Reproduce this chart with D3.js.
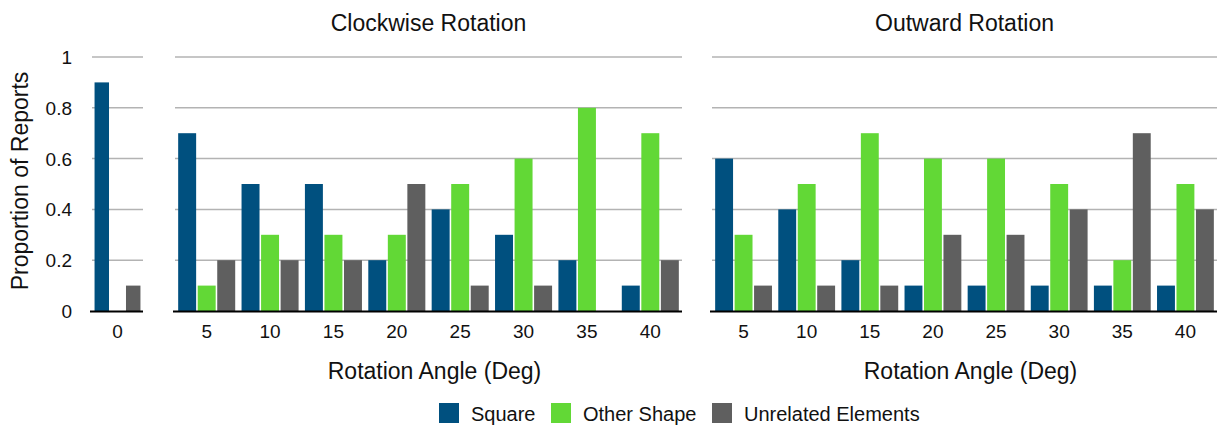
<!DOCTYPE html>
<html>
<head>
<meta charset="utf-8">
<script src="https://cdn.jsdelivr.net/npm/d3@7"></script>
<style>
  body { margin: 0; background: #fff; }
  text { font-family: "Liberation Sans", Arial, Helvetica, sans-serif; fill: #111; }
</style>
</head>
<body>
<svg id="chart" width="1217" height="425"></svg>
<script>
// data
const series = ["Square", "Other Shape", "Unrelated Elements"];
const colors = ["#00507f", "#62d836", "#5f5f5f"];
const angles = ["5", "10", "15", "20", "25", "30", "35", "40"];

const zeroSquare = [0.9], zeroOther = [0], zeroUnrelated = [0.1];

const cwSquare    = [0.7, 0.5, 0.5, 0.2, 0.4, 0.3, 0.2, 0.1];
const cwOther     = [0.1, 0.3, 0.3, 0.3, 0.5, 0.6, 0.8, 0.7];
const cwUnrelated = [0.2, 0.2, 0.2, 0.5, 0.1, 0.1, 0.0, 0.2];

const outSquare    = [0.6, 0.4, 0.2, 0.1, 0.1, 0.1, 0.1, 0.1];
const outOther     = [0.3, 0.5, 0.7, 0.6, 0.6, 0.5, 0.2, 0.5];
const outUnrelated = [0.1, 0.1, 0.1, 0.3, 0.3, 0.4, 0.7, 0.4];

const yTicks = [0, 0.2, 0.4, 0.6, 0.8, 1];

const svg = d3.select("#chart");
const y = d3.scaleLinear().domain([0, 1]).range([311, 57]);

const panels = [
  { title: null, xlabel: null, cats: ["0"], vals: [zeroSquare, zeroOther, zeroUnrelated], range: [92, 143] },
  { title: "Clockwise Rotation", xlabel: "Rotation Angle (Deg)", cats: angles, vals: [cwSquare, cwOther, cwUnrelated], range: [175, 682] },
  { title: "Outward Rotation", xlabel: "Rotation Angle (Deg)", cats: angles, vals: [outSquare, outOther, outUnrelated], range: [712, 1217] }
];

panels.forEach(function(p) {
  const g = svg.append("g");
  const x = d3.scaleBand().domain(p.cats).range(p.range).paddingInner(0.1).paddingOuter(0.05);
  const xs = d3.scaleBand().domain(series).range([0, x.bandwidth()]).paddingInner(0.08);

  // gridlines
  g.selectAll(".grid").data(yTicks.slice(1)).enter().append("line")
    .attr("x1", p.range[0]).attr("x2", p.range[1])
    .attr("y1", d => y(d)).attr("y2", d => y(d))
    .attr("stroke", "#b3b3b3").attr("stroke-width", 1.5);

  // bars
  const rows = p.cats.map((c, i) => ({ cat: c, vals: series.map((s, j) => ({ s: s, j: j, v: p.vals[j][i] })) }));
  const grp = g.selectAll(".grp").data(rows).enter().append("g")
    .attr("transform", d => "translate(" + x(d.cat) + ",0)");
  grp.selectAll("rect").data(d => d.vals).enter().append("rect")
    .attr("x", d => xs(d.s))
    .attr("width", xs.bandwidth())
    .attr("y", d => y(d.v))
    .attr("height", d => y(0) - y(d.v))
    .attr("fill", d => colors[d.j]);

  // baseline
  g.append("line")
    .attr("x1", p.range[0] - 2).attr("x2", p.range[1])
    .attr("y1", y(0) + 0.5).attr("y2", y(0) + 0.5)
    .attr("stroke", "#000").attr("stroke-width", 2);

  // x tick labels
  g.selectAll(".xt").data(p.cats).enter().append("text")
    .attr("x", d => x(d) + x.bandwidth() / 2)
    .attr("y", 338)
    .attr("text-anchor", "middle")
    .style("font-size", "19px")
    .text(d => d);

  const cx = (p.range[0] + p.range[1]) / 2;
  if (p.title) {
    g.append("text").attr("x", cx).attr("y", 31)
      .attr("text-anchor", "middle").style("font-size", "23px").text(p.title);
    g.append("text").attr("x", cx + 6).attr("y", 379)
      .attr("text-anchor", "middle").style("font-size", "23px").text(p.xlabel);
  }
});

// y axis labels
svg.selectAll(".yt").data(yTicks).enter().append("text")
  .attr("x", 72).attr("y", d => y(d) + 7)
  .attr("text-anchor", "end")
  .style("font-size", "19px")
  .text(d => d3.format("~g")(d));

svg.append("text")
  .attr("transform", "translate(28,181) rotate(-90)")
  .attr("text-anchor", "middle")
  .style("font-size", "23px")
  .text("Proportion of Reports");

// legend
const legendX = [439, 551, 712];
const leg = svg.selectAll(".leg").data(series).enter().append("g")
  .attr("transform", (d, i) => "translate(" + legendX[i] + ",403)");
leg.append("rect").attr("width", 20).attr("height", 20).attr("fill", (d, i) => colors[i]);
leg.append("text").attr("x", 32).attr("y", 18).style("font-size", "20px").text(d => d);
</script>
</body>
</html>
